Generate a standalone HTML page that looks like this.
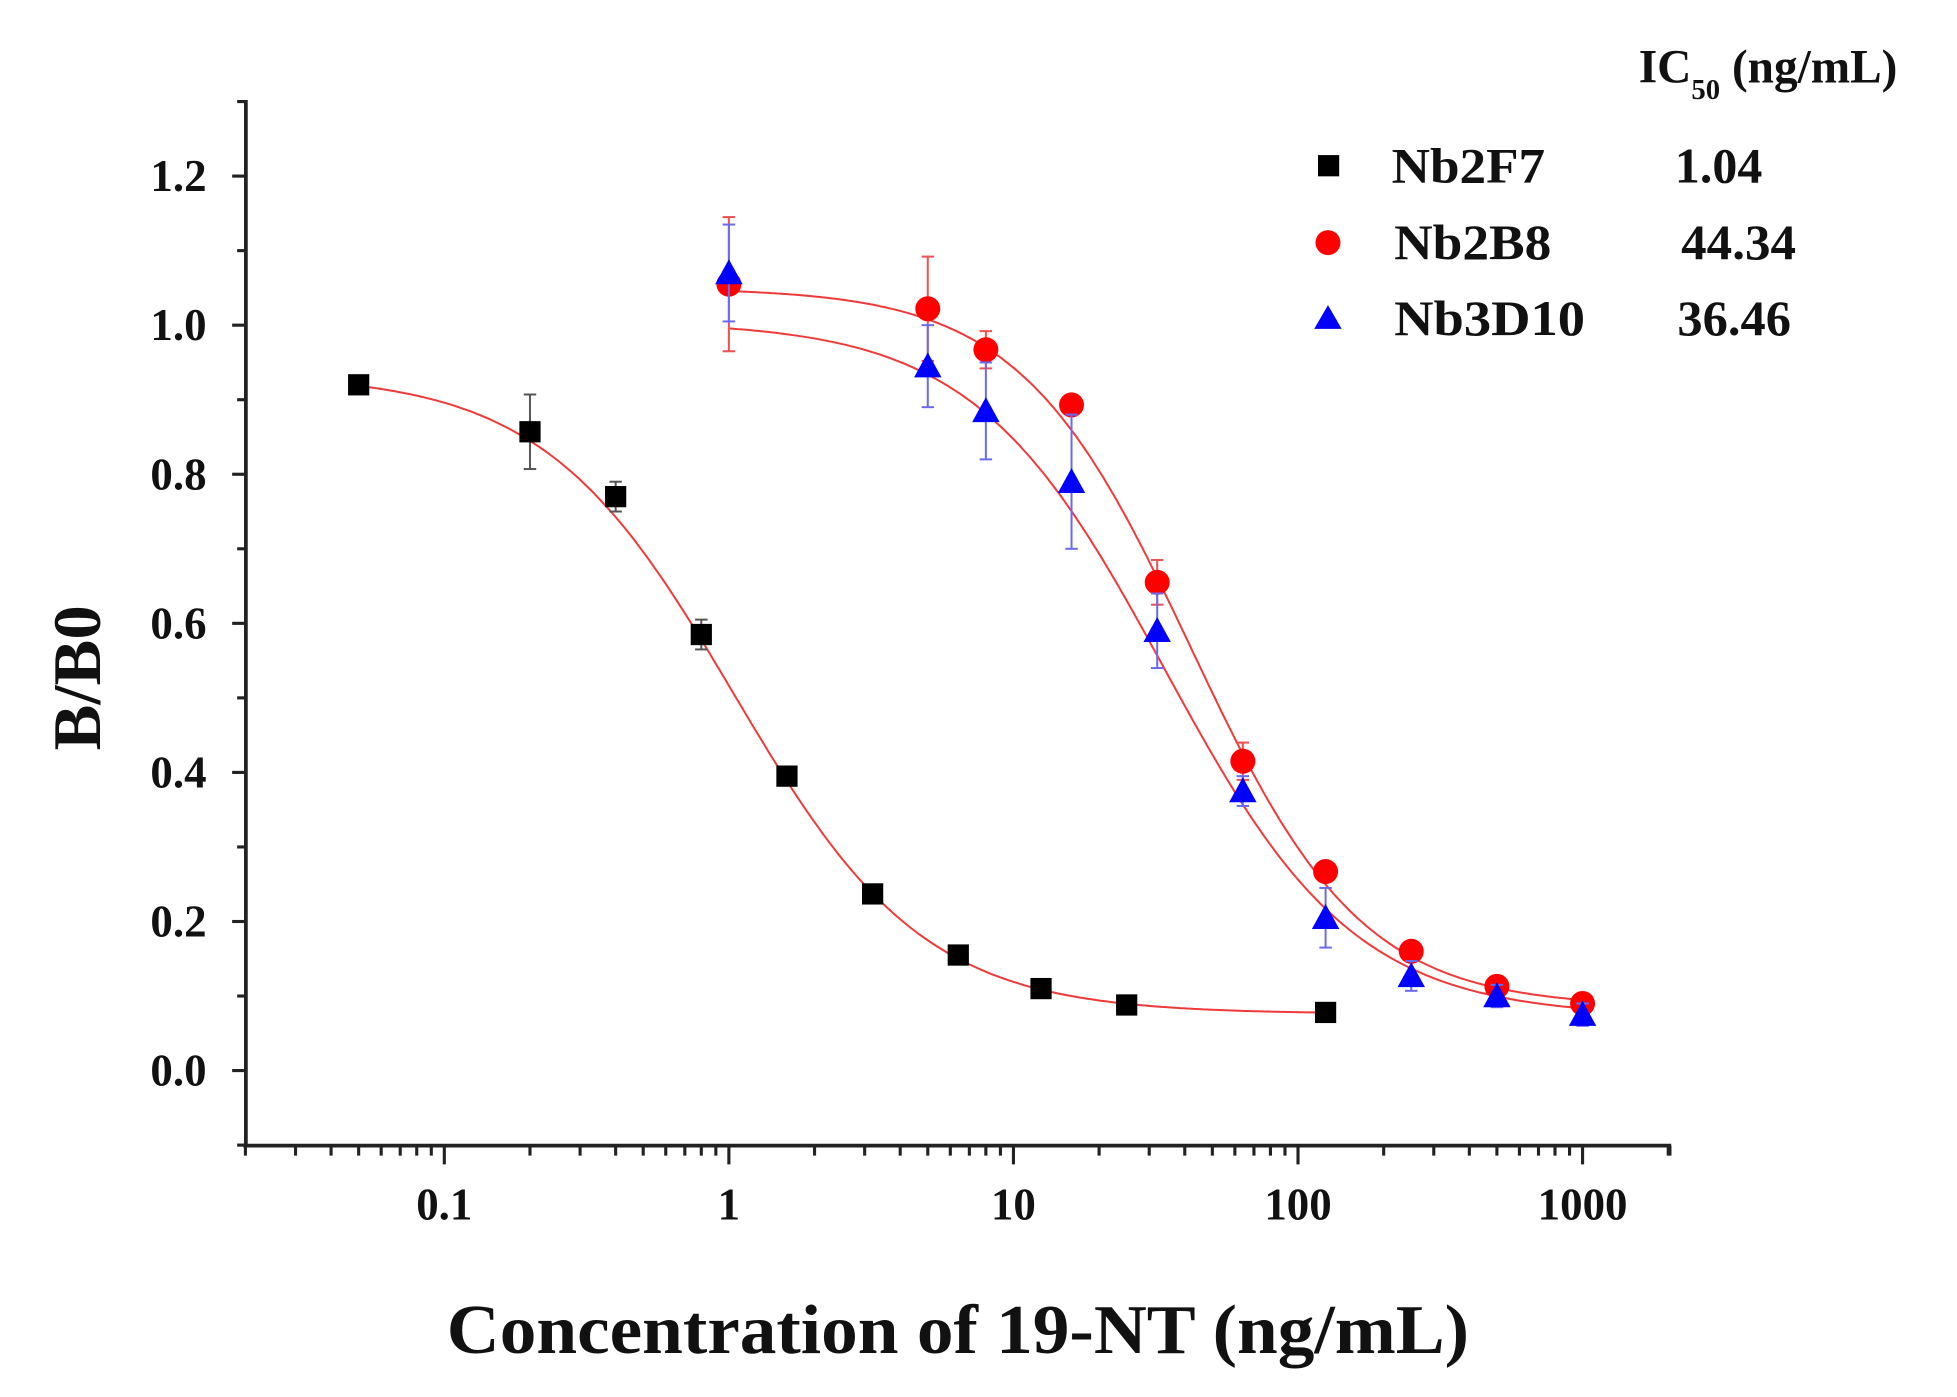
<!DOCTYPE html>
<html><head><meta charset="utf-8"><style>
html,body{margin:0;padding:0;background:#fff;}
svg{display:block;}
text{font-family:"Liberation Serif",serif;fill:#111;}
</style></head><body>
<svg id="s" width="1957" height="1397" viewBox="0 0 1568 1117" preserveAspectRatio="none" xmlns="http://www.w3.org/2000/svg">
<g id="axes" stroke="#222" stroke-width="3" fill="none">
<line x1="197" y1="80" x2="197" y2="917"/>
<line x1="195" y1="916" x2="1339" y2="916"/>
</g>
<g id="ticks" stroke="#222" stroke-width="2.5"></g>
<g id="lab" font-size="36" font-weight="bold" text-anchor="middle"></g>
<g id="curves" fill="none" stroke="#f03a3a" stroke-width="1.6"></g>
<g id="pts"></g>
<text x="0" y="0" font-size="54" font-weight="bold" transform="translate(80,542) rotate(-90)" text-anchor="middle" textLength="116" lengthAdjust="spacingAndGlyphs">B/B0</text>
<text x="358" y="1082" font-size="56" font-weight="bold" textLength="819" lengthAdjust="spacingAndGlyphs">Concentration of 19-NT (ng/mL)</text>
<text x="1313" y="66" font-size="38" font-weight="bold">IC<tspan font-size="23" dy="13">50</tspan><tspan dy="-13" textLength="142" lengthAdjust="spacingAndGlyphs"> (ng/mL)</tspan></text>
<rect x="1056" y="124" width="17" height="17" fill="#000"/>
<circle cx="1064" cy="194" r="10" fill="#f00"/>
<polygon points="1053,263 1075,263 1064,244" fill="#00f"/>
<g font-size="40" font-weight="bold">
<text x="1115" y="146" textLength="123" lengthAdjust="spacingAndGlyphs">Nb2F7</text><text x="1342" y="146" textLength="70" lengthAdjust="spacingAndGlyphs">1.04</text>
<text x="1117" y="207" textLength="126" lengthAdjust="spacingAndGlyphs">Nb2B8</text><text x="1347" y="207" textLength="92" lengthAdjust="spacingAndGlyphs">44.34</text>
<text x="1117" y="268" textLength="153" lengthAdjust="spacingAndGlyphs">Nb3D10</text><text x="1344" y="268" textLength="91" lengthAdjust="spacingAndGlyphs">36.46</text>
</g>
</svg>
<script>
const NS="http://www.w3.org/2000/svg";
const X=c=>584+228*Math.log10(c), Y=v=>856-596*v;
function el(p,t,a){const e=document.createElementNS(NS,t);for(const k in a)e.setAttribute(k,a[k]);document.getElementById(p).appendChild(e);return e;}
for(let i=-1;i<=13;i++){const v=i/10,y=Y(v);if(y<80)continue;const maj=i%2==0&&i>=0;
 el("ticks","line",{x1:197-(maj?11:7),y1:y,x2:197,y2:y});
 if(maj){const t=el("lab","text",{x:143,y:y+12});t.textContent=v.toFixed(1);}}
for(let d=-2;d<=3;d++)for(let m=1;m<=9;m++){const c=m*Math.pow(10,d),x=X(c);if(x<196||x>1339)continue;
 el("ticks","line",{x1:x,y1:916,x2:x,y2:916+(m==1?15:8)});
 if(m==1){const t=el("lab","text",{x:x,y:975});t.textContent=String(c>=1?c:c.toFixed(1));}}
el("ticks","line",{x1:1338,y1:916,x2:1338,y2:924});
function curve(top,bot,C,h,a,b){let d="";for(let i=0;i<=300;i++){const l=Math.log10(a)+(Math.log10(b)-Math.log10(a))*i/300,c=Math.pow(10,l);
 const v=bot+(top-bot)/(1+Math.pow(c/C,h));d+=(i?"L":"M")+X(c).toFixed(1)+","+Y(v).toFixed(1);}el("curves","path",{d:d});}
curve(0.935,0.076,1.04,1.3,0.05,125);
curve(1.05,0.085,42,1.45,1,1000);
curve(1.005,0.072,34,1.3,1,1000);
const blk=[[0.05,0.92,0.01],[0.2,0.857,0.05],[0.4,0.77,0.02],[0.8,0.585,0.02],[1.6,0.395,0.008],[3.2,0.237,0.01],[6.4,0.155,0.005],[12.5,0.11,0.005],[25,0.088,0.005],[125,0.078,0.005]];
const red=[[1,1.055,0.09],[5,1.022,0.07],[8,0.967,0.025],[16,0.893,0.01],[32,0.655,0.03],[64,0.415,0.025],[125,0.267,0.008],[250,0.16,0.01],[500,0.113,0.008],[1000,0.09,0.005]];
const blu=[[1,1.07,0.065],[5,0.945,0.055],[8,0.885,0.065],[16,0.79,0.09],[32,0.59,0.05],[64,0.375,0.02],[125,0.205,0.04],[250,0.127,0.02],[500,0.1,0.015],[1000,0.075,0.015]];
function eb(c,v,e,col){const x=X(c),y1=Y(v+e),y2=Y(v-e);el("pts","line",{x1:x,y1:y1,x2:x,y2:y2,stroke:col,"stroke-width":1.6});
 el("pts","line",{x1:x-5,y1:y1,x2:x+5,y2:y1,stroke:col,"stroke-width":1.6});el("pts","line",{x1:x-5,y1:y2,x2:x+5,y2:y2,stroke:col,"stroke-width":1.6});}
blk.forEach(p=>{eb(p[0],p[1],p[2],"#555");el("pts","rect",{x:X(p[0])-8.5,y:Y(p[1])-8.5,width:17,height:17,fill:"#000"});});
red.forEach(p=>{eb(p[0],p[1],p[2],"#f05050");el("pts","circle",{cx:X(p[0]),cy:Y(p[1]),r:10,fill:"#f00"});});
blu.forEach(p=>{eb(p[0],p[1],p[2],"#6a6af0");const x=X(p[0]),y=Y(p[1]);el("pts","polygon",{points:`${x-11},${y+9} ${x+11},${y+9} ${x},${y-11}`,fill:"#00f"});});
</script>
</body></html>
